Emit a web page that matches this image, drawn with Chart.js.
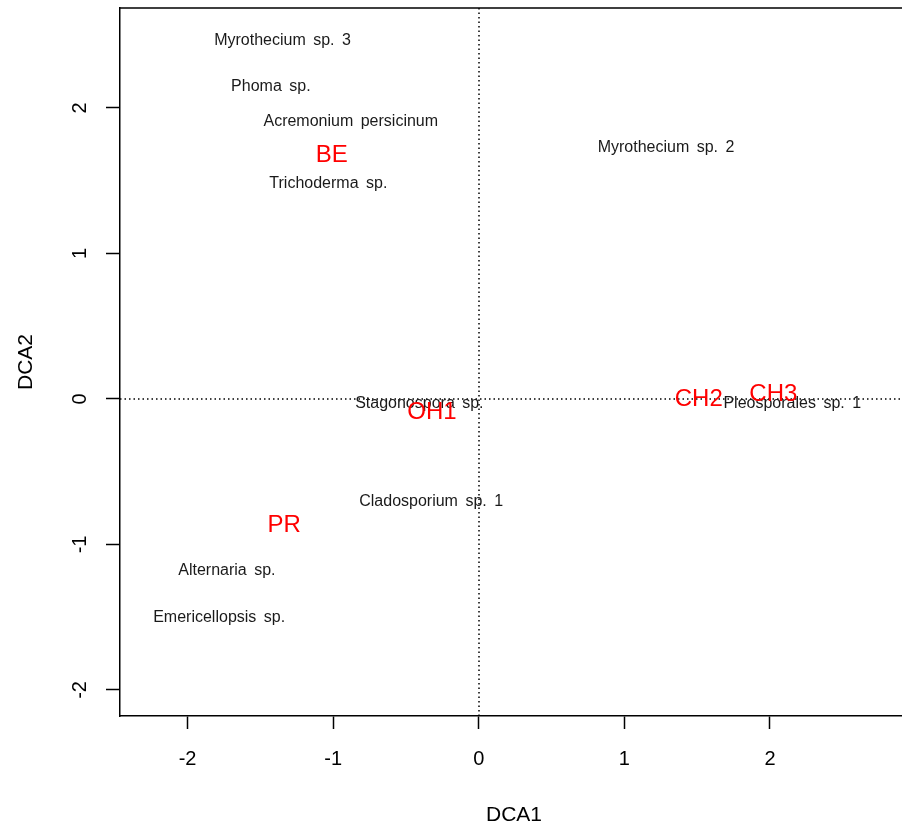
<!DOCTYPE html>
<html>
<head>
<meta charset="utf-8">
<title>DCA ordination</title>
<script src="https://cdn.jsdelivr.net/npm/chart.js@4.4.1/dist/chart.umd.min.js"></script>
<style>
  html, body { margin: 0; padding: 0; overflow: hidden; background: #ffffff; }
  canvas { display: block; }
</style>
</head>
<body>
<canvas id="dca" width="910" height="825"></canvas>
<script>
// Species scores on the first two DCA axes
const speciesNames = [
  "Myrothecium sp. 3", "Phoma sp.", "Acremonium persicinum", "Trichoderma sp.",
  "Myrothecium sp. 2", "Stagonospora sp.", "Pleosporales sp. 1",
  "Cladosporium sp. 1", "Alternaria sp.", "Emericellopsis sp."
];
const speciesDCA1 = [-1.348, -1.428, -0.879, -1.033, 1.286, -0.408, 2.153, -0.327, -1.730, -1.783];
const speciesDCA2 = [ 2.473,  2.159,  1.916,  1.487, 1.734, -0.024, -0.024, -0.694, -1.170, -1.497];

// Site scores
const siteNames = ["BE", "OH1", "CH2", "CH3", "PR"];
const siteDCA1 = [-1.010, -0.321, 1.511, 2.023, -1.336];
const siteDCA2 = [ 1.689, -0.076, 0.012, 0.045, -0.854];

// Axis ticks and limits
const xTicks = [-2, -1, 0, 1, 2];
const yTicks = [-2, -1, 0, 1, 2];
const xLimits = [-2.464, 2.948];
const yLimits = [-2.179, 2.687];

const FONT = '"Liberation Sans", Arial, Helvetica, sans-serif';
const INK = '#1a1a1a';

function toPoints(xs, ys) {
  return xs.map((x, i) => ({ x: x, y: ys[i] }));
}

// Text labels at each score, dotted zero lines, box, tick labels and axis titles
const ordiPlot = {
  id: 'ordiPlot',
  beforeDatasetsDraw(chart) {
    const { ctx, chartArea: a, scales: { x, y } } = chart;
    ctx.save();
    ctx.strokeStyle = '#000';
    ctx.lineWidth = 1.5;
    ctx.setLineDash([1.5, 3]);
    const x0 = Math.round(x.getPixelForValue(0));
    const y0 = Math.round(y.getPixelForValue(0));
    ctx.beginPath();
    ctx.moveTo(x0, a.top); ctx.lineTo(x0, a.bottom);
    ctx.moveTo(a.left, y0); ctx.lineTo(a.right, y0);
    ctx.stroke();
    ctx.restore();
  },
  afterDatasetsDraw(chart) {
    const { ctx } = chart;
    chart.data.datasets.forEach((ds, i) => {
      const meta = chart.getDatasetMeta(i);
      ctx.save();
      ctx.font = ds.labelSize + 'px ' + FONT;
      ctx.fillStyle = ds.labelColor;
      ctx.textAlign = 'center';
      ctx.textBaseline = 'alphabetic';
      if ('wordSpacing' in ctx) ctx.wordSpacing = ds.labelWordSpacing;
      // centre the capitals on the score position
      const drop = 0.358 * ds.labelSize;
      meta.data.forEach((pt, j) => {
        ctx.fillText(ds.names[j], pt.x, pt.y + drop);
      });
      ctx.restore();
    });
  },
  afterDraw(chart) {
    const { ctx, chartArea: a, scales: { x, y } } = chart;
    ctx.save();
    // top and right sides of the box
    ctx.strokeStyle = '#000';
    ctx.lineWidth = 1.5;
    ctx.beginPath();
    ctx.moveTo(a.left, a.top);
    ctx.lineTo(a.right, a.top);
    ctx.lineTo(a.right, a.bottom);
    ctx.stroke();

    ctx.fillStyle = '#000';
    ctx.font = '20px ' + FONT;
    ctx.textAlign = 'center';
    ctx.textBaseline = 'alphabetic';
    x.ticks.forEach(t => {
      ctx.fillText(String(t.value), x.getPixelForValue(t.value), a.bottom + 42 + 7.2);
    });
    y.ticks.forEach(t => {
      ctx.save();
      ctx.translate(a.left - 41 + 7.2, y.getPixelForValue(t.value));
      ctx.rotate(-Math.PI / 2);
      ctx.fillText(String(t.value), 0, 0);
      ctx.restore();
    });

    ctx.font = '21px ' + FONT;
    ctx.fillText('DCA1', (a.left + a.right) / 2, a.bottom + 97 + 7.5);
    ctx.save();
    ctx.translate(a.left - 96 + 7.5, (a.top + a.bottom) / 2);
    ctx.rotate(-Math.PI / 2);
    ctx.fillText('DCA2', 0, 0);
    ctx.restore();
    ctx.restore();
  }
};

new Chart(document.getElementById('dca'), {
  type: 'scatter',
  data: {
    datasets: [
      {
        label: 'Species',
        names: speciesNames,
        data: toPoints(speciesDCA1, speciesDCA2),
        pointRadius: 0,
        labelSize: 16,
        labelColor: INK,
        labelWordSpacing: '3px'
      },
      {
        label: 'Sites',
        names: siteNames,
        data: toPoints(siteDCA1, siteDCA2),
        pointRadius: 0,
        labelSize: 24,
        labelColor: '#ff0000',
        labelWordSpacing: '0px'
      }
    ]
  },
  options: {
    responsive: false,
    animation: false,
    events: [],
    layout: { padding: { left: 0, top: 8, right: 2, bottom: 0 } },
    plugins: {
      legend: { display: false },
      tooltip: { enabled: false }
    },
    scales: {
      x: {
        type: 'linear',
        min: xLimits[0],
        max: xLimits[1],
        afterBuildTicks(scale) { scale.ticks = xTicks.map(v => ({ value: v })); },
        afterFit(scale) { scale.height = 109; },
        ticks: { display: false },
        grid: {
          drawOnChartArea: false,
          drawTicks: true,
          tickLength: 13,
          tickWidth: 1.5,
          tickColor: '#000'
        },
        border: { display: true, color: '#000', width: 1.5 }
      },
      y: {
        type: 'linear',
        min: yLimits[0],
        max: yLimits[1],
        afterBuildTicks(scale) { scale.ticks = yTicks.map(v => ({ value: v })); },
        afterFit(scale) { scale.width = 120; },
        ticks: { display: false },
        grid: {
          drawOnChartArea: false,
          drawTicks: true,
          tickLength: 14,
          tickWidth: 1.5,
          tickColor: '#000'
        },
        border: { display: true, color: '#000', width: 1.5 }
      }
    }
  },
  plugins: [ordiPlot]
});
</script>
</body>
</html>
